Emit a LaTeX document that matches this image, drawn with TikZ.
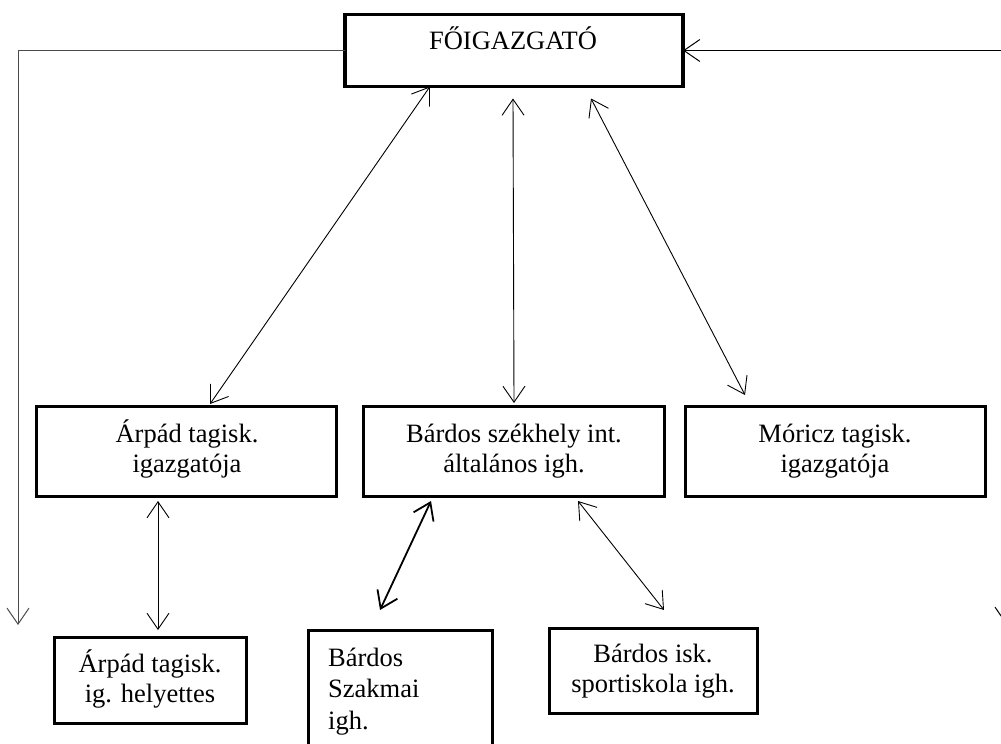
\documentclass[tikz,border=0pt]{standalone}
\usepackage{fontspec}
\setmainfont{Liberation Serif}
\usetikzlibrary{arrows.meta}
\begin{document}
\begin{tikzpicture}[x=1pt,y=-1pt,
  box/.style={draw, line width=3pt, rectangle, inner sep=0pt, outer sep=0pt},
  lbl/.style={anchor=base, inner sep=0pt, font=\fontsize{26.5}{30.5}\selectfont},
  conn/.style={line width=0.9pt, {Straight Barb[length=16pt,width=22pt]}-{Straight Barb[length=16pt,width=22pt]}}]
\useasboundingbox (0,0) rectangle (1001,744);
% boxes
\node[box, line width=3.6pt, minimum width=338pt, minimum height=72pt] (top) at (514,50.5) {};
\node[box, minimum width=300pt, minimum height=90pt] (arpad) at (186.5,451.5) {};
\node[box, minimum width=301pt, minimum height=90pt] (bardos) at (514,451.5) {};
\node[box, minimum width=300pt, minimum height=90pt] (moricz) at (835.5,451.5) {};
\node[box, minimum width=192pt, minimum height=86pt] (hely) at (150.5,680.5) {};
\node[box, minimum width=184pt, minimum height=140pt] (szak) at (400.5,700.5) {};
\node[box, minimum width=208pt, minimum height=85pt] (sport) at (653.5,671) {};
% texts
\node[lbl] (ttop) at (513,49) {FŐIGAZGATÓ};
\node[lbl] (tarpad) at (187,442) {\begin{tabular}[t]{@{}c@{}}Árpád tagisk.\\igazgatója\end{tabular}};
\node[lbl] (tbardos) at (514,442) {\begin{tabular}[t]{@{}c@{}}Bárdos székhely int.\\általános igh.\end{tabular}};
\node[lbl] (tmoricz) at (835,442) {\begin{tabular}[t]{@{}c@{}}Móricz tagisk.\\igazgatója\end{tabular}};
\node[lbl] (thely) at (150,672) {\begin{tabular}[t]{@{}c@{}}Árpád tagisk.\\ig. helyettes\end{tabular}};
\node[lbl, anchor=base west, font=\fontsize{26.5}{31.5}\selectfont] (tszak) at (328,666) {\begin{tabular}[t]{@{}l@{}}Bárdos\\Szakmai\\igh.\end{tabular}};
\node[lbl] (tsport) at (653,662) {\begin{tabular}[t]{@{}c@{}}Bárdos isk.\\sportiskola igh.\end{tabular}};
% side lines
\coordinate (lb) at (18,625);
\coordinate (rb) at (1006,624);
\draw[line width=1pt, black!70, -{Straight Barb[length=16pt,width=22pt]}] (top.west) -| (lb);
\draw[line width=1pt, {Straight Barb[length=16pt,width=22pt]}-{Straight Barb[length=16pt,width=22pt]}] (rb) |- (top.east);
% connectors
\draw[conn] ([xshift=-84pt]top.south) -- ([xshift=23.5pt,yshift=2.5pt]arpad.north);
\draw[conn] ([xshift=-1pt,yshift=-12pt]top.south) -- ([yshift=3.5pt]bardos.north);
\draw[conn] ([xshift=77pt,yshift=-12pt]top.south) -- ([xshift=-90.5pt,yshift=11.5pt]moricz.north);
\draw[conn] ([xshift=-28.5pt,yshift=-4.5pt]arpad.south) -- ([xshift=7.5pt,yshift=7.5pt]hely.north);
\draw[conn, line width=1.8pt] ([xshift=-83pt,yshift=-4.5pt]bardos.south) -- ([xshift=-20.5pt,yshift=20.5pt]szak.north);
\draw[conn] ([xshift=64pt,yshift=-4.5pt]bardos.south) -- ([xshift=10.5pt,yshift=18.5pt]sport.north);
\end{tikzpicture}
\end{document}
